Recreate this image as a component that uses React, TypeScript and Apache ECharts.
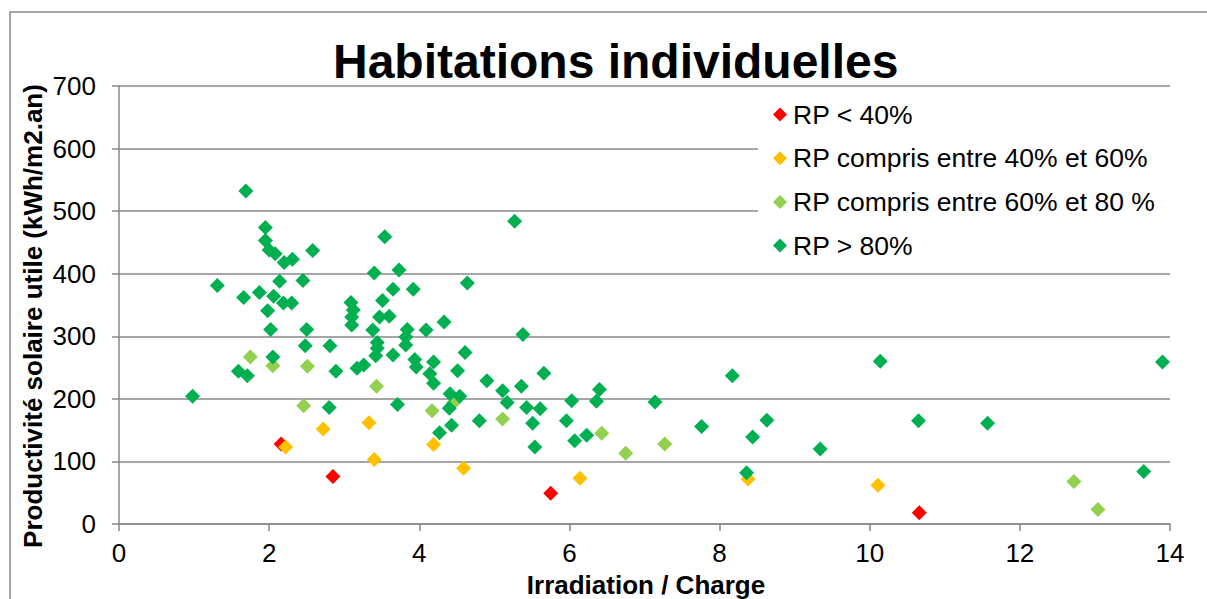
import React, { useEffect, useRef } from "react";
import * as echarts from "echarts";

const FONT = "'Liberation Sans', Arial, sans-serif";

const seriesNames = [
  "RP < 40%",
  "RP compris entre 40% et 60%",
  "RP compris entre 60% et 80 %",
  "RP > 80%",
];
const seriesColors = ["#FF0000", "#FFC000", "#92D050", "#00B050"];

const redPoints: [number, number][] = [
  [2.16, 128], [2.85, 76], [5.75, 49], [10.66, 18],
];

const orangePoints: [number, number][] = [
  [2.22, 123], [2.72, 152], [3.33, 162], [3.40, 103], [4.19, 127],
  [4.59, 89], [6.14, 73], [8.38, 72], [10.11, 62],
];

const lightGreenPoints: [number, number][] = [
  [1.75, 267], [2.05, 253], [2.51, 252], [3.43, 220], [2.46, 189],
  [4.17, 181], [4.45, 193], [5.11, 168], [6.43, 145], [6.75, 113],
  [7.27, 128], [12.72, 68], [13.04, 23],
];

const greenPoints: [number, number][] = [
  [0.98, 204], [1.31, 381], [1.69, 532], [1.95, 474], [1.95, 453],
  [2.00, 438], [2.08, 432], [2.20, 418], [2.31, 423], [2.58, 437],
  [3.54, 459], [3.40, 401], [3.73, 406], [1.66, 362], [1.87, 370],
  [2.06, 364], [2.14, 388], [2.45, 389], [1.98, 341], [2.19, 353],
  [2.30, 353], [2.02, 311], [2.50, 311], [2.48, 285], [2.81, 285],
  [2.05, 267], [3.65, 375], [3.92, 375], [3.51, 357], [3.09, 354],
  [3.12, 342], [3.10, 331], [3.10, 318], [3.47, 331], [3.60, 332],
  [4.33, 323], [3.38, 310], [3.84, 311], [3.82, 299], [3.82, 286],
  [4.09, 310], [3.44, 290], [3.44, 281], [3.42, 269], [3.65, 270],
  [3.94, 263], [3.96, 251], [4.19, 259], [4.14, 240], [4.19, 225],
  [2.89, 244], [3.17, 249], [3.26, 254], [1.59, 244], [1.71, 237],
  [2.80, 186], [3.71, 191], [5.27, 484], [4.64, 385], [4.61, 274],
  [5.38, 303], [4.51, 245], [4.90, 229], [5.11, 213], [5.36, 220],
  [5.66, 241], [6.40, 215], [4.41, 208], [4.54, 204], [4.40, 185],
  [5.17, 194], [5.43, 186], [5.61, 184], [6.03, 197], [6.36, 196],
  [4.80, 165], [5.51, 161], [5.96, 165], [4.43, 158], [4.27, 146],
  [6.07, 133], [6.23, 142], [5.54, 123], [7.14, 195], [7.76, 156],
  [8.17, 237], [8.44, 139], [8.63, 166], [8.36, 82], [9.34, 120],
  [10.14, 260], [10.65, 165], [11.57, 161], [13.65, 84], [13.90, 259],
];

const seriesData = [redPoints, orangePoints, lightGreenPoints, greenPoints];

const titleText = "Habitations individuelles";
const xAxisTitle = "Irradiation / Charge";
const yAxisTitle = "Productivité solaire utile (kWh/m2.an)";

export default function App() {
  const ref = useRef<HTMLDivElement>(null);

  useEffect(() => {
    document.body.style.margin = "0";
    if (!ref.current) return;
    const chart = echarts.init(ref.current, undefined, { renderer: "svg" });
    const gray = "#898989";
    chart.setOption({
      animation: false,
      backgroundColor: "#ffffff",
      title: {
        text: titleText,
        left: 333,
        top: 37,
        padding: 0,
        textStyle: {
          fontFamily: FONT,
          fontSize: 48,
          fontWeight: "bold",
          color: "#000",
          lineHeight: 48,
        },
      },
      graphic: [
        {
          type: "rect",
          shape: { x: 10, y: 12, width: 1230, height: 640 },
          style: { fill: "none", stroke: gray, lineWidth: 1.5 },
          silent: true,
          z: 0,
        },
        {
          type: "text",
          x: 33,
          y: 316,
          rotation: Math.PI / 2,
          style: {
            text: yAxisTitle,
            font: `bold 26px ${FONT}`,
            fill: "#000",
            align: "center",
            verticalAlign: "middle",
          },
        },
        {
          type: "text",
          x: 646,
          y: 585,
          style: {
            text: xAxisTitle,
            font: `bold 26px ${FONT}`,
            fill: "#000",
            align: "center",
            verticalAlign: "middle",
          },
        },
      ],
      legend: {
        orient: "vertical",
        left: 758,
        top: 94,
        padding: [7, 30, 10, 15],
        backgroundColor: "#ffffff",
        itemWidth: 14,
        itemHeight: 14,
        itemGap: 16.7,
        icon: "diamond",
        data: seriesNames,
        textStyle: {
          fontFamily: FONT,
          fontSize: 26.5,
          lineHeight: 26,
          color: "#000",
          padding: [0, 0, 0, 1],
        },
        z: 5,
      },
      grid: {
        left: 119,
        right: 37,
        top: 86,
        bottom: 75,
        containLabel: false,
      },
      xAxis: {
        type: "value",
        min: 0,
        max: 14,
        interval: 2,
        axisLine: { show: true, onZero: false, lineStyle: { color: gray, width: 1.5 } },
        axisTick: { show: true, inside: false, length: 7, lineStyle: { color: gray, width: 1.5 } },
        splitLine: { show: false },
        axisLabel: {
          fontFamily: FONT,
          fontSize: 26,
          color: "#000",
          margin: 16,
        },
      },
      yAxis: {
        type: "value",
        min: 0,
        max: 700,
        interval: 100,
        axisLine: { show: true, onZero: false, lineStyle: { color: gray, width: 1.5 } },
        axisTick: { show: true, inside: false, length: 7, lineStyle: { color: gray, width: 1.5 } },
        splitLine: { show: true, lineStyle: { color: gray, width: 1.5 } },
        axisLabel: {
          fontFamily: FONT,
          fontSize: 26,
          color: "#000",
          margin: 23,
        },
      },
      series: seriesData.map((data, i) => ({
        name: seriesNames[i],
        type: "scatter",
        symbol: "diamond",
        symbolSize: 15,
        itemStyle: { color: seriesColors[i], opacity: 1 },
        data,
        z: 2 + i,
      })),
    });
    return () => chart.dispose();
  }, []);

  return <div ref={ref} style={{ width: 1207, height: 599 }} />;
}
